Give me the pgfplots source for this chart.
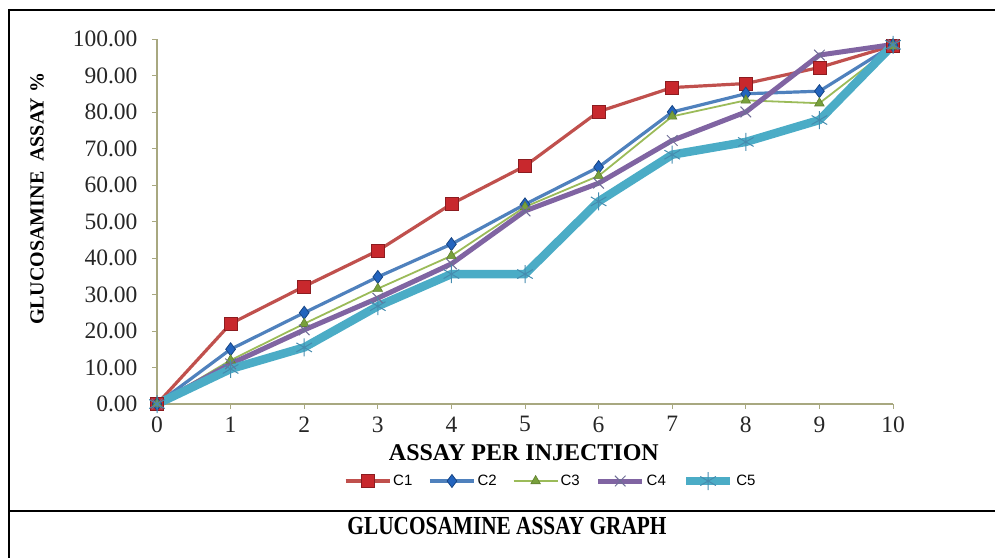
\documentclass[border=0pt]{standalone}
\usepackage{pgfplots}
\pgfplotsset{compat=1.18}
\usepackage{fontspec}
\setmainfont{Liberation Serif}
\newfontfamily\legendfont{Liberation Sans}
\newfontfamily\capfont[FakeStretch=0.82]{Liberation Serif}
\definecolor{axisc}{RGB}{168,168,128}
\definecolor{cA}{RGB}{192,80,77}
\definecolor{cAm}{RGB}{200,40,45}
\definecolor{cB}{RGB}{79,129,189}
\definecolor{cBm}{RGB}{35,100,190}
\definecolor{cC}{RGB}{155,187,89}
\definecolor{cCm}{RGB}{120,160,60}
\definecolor{cD}{RGB}{128,100,162}
\definecolor{cDm}{RGB}{110,110,150}
\definecolor{cE}{RGB}{75,172,198}
\definecolor{cEm}{RGB}{70,140,175}
\begin{document}
\begin{tikzpicture}
\useasboundingbox (0pt,0pt) rectangle (995pt,558pt);
% table borders
\draw[line width=2pt] (9pt,548pt) -- (995pt,548pt);
\draw[line width=2pt] (9pt,549pt) -- (9pt,0pt);
\draw[line width=2pt] (9pt,47pt) -- (995pt,47pt);
\node[font=\capfont\bfseries\fontsize{26}{28}\selectfont] at (507pt,32pt) {GLUCOSAMINE ASSAY GRAPH};
\begin{axis}[
  at={(157pt,154pt)}, anchor=south west,
  width=736pt, height=365pt, scale only axis,
  xmin=0, xmax=10, ymin=0, ymax=100,
  clip=false,
  axis lines=left,
  axis line style={-, color=axisc, line width=1.2pt},
  every tick/.style={color=axisc, line width=1pt},
  major tick length=5pt,
  tick align=outside,
  xtick={0,1,...,10},
  ytick={0,10,...,100},
  /pgf/number format/assume math mode=true,
  yticklabel style={/pgf/number format/fixed, /pgf/number format/fixed zerofill, /pgf/number format/precision=2, xshift=-11pt},
  tick label style={font=\fontsize{23.5}{25}\selectfont, text=black!85},
  xticklabel style={yshift=-4pt},
  xlabel={ASSAY PER INJECTION},
  xlabel style={font=\bfseries\fontsize{24}{26}\selectfont, at={(axis description cs:0.4985,-0.134)}, anchor=center},
  ylabel={GLUCOSAMINE\ \ ASSAY \%},
  ylabel style={font=\bfseries\fontsize{20}{22}\selectfont, at={(axis description cs:-0.163,0.562)}, anchor=center},
  legend columns=5,
  legend style={draw=none, fill=none, at={(axis description cs:0.535,-0.211)}, anchor=center,
    font=\legendfont\fontsize{15}{16}\selectfont,
    /tikz/every even column/.append style={column sep=14pt}},
  legend image code/.code={
    \draw[mark repeat=2,mark phase=2,#1] plot coordinates {(0pt,0pt) (22pt,0pt) (44pt,0pt)};
  },
]
\addplot[cA, line width=3.2pt, mark=square*, mark size=6.5pt,
  mark options={solid, fill=cAm, draw=cAm!70!black, line width=0.8pt}]
  coordinates {(0,0) (1,22) (2,32.2) (3,42) (4,54.8) (5,65.2) (6,80.1) (7,86.7) (8,87.8) (9,92.2) (10,98.2)};
\addlegendentry{C1}
\addplot[cB, line width=3.2pt, mark=diamond*, mark size=6.5pt,
  mark options={solid, fill=cBm, draw=cBm!70!black, line width=0.8pt}]
  coordinates {(0,0) (1,15) (2,25) (3,34.8) (4,43.8) (5,54.7) (6,64.9) (7,80) (8,85) (9,85.7) (10,98.3)};
\addlegendentry{C2}
\addplot[cC, line width=1.8pt, mark=triangle*, mark size=5.5pt,
  mark options={solid, fill=cCm, draw=cCm!80!black, line width=0.6pt}]
  coordinates {(0,0) (1,12) (2,22) (3,31.6) (4,40.6) (5,54) (6,62.5) (7,78.8) (8,83.2) (9,82.4) (10,98)};
\addlegendentry{C3}
\addplot[cD, line width=5pt, mark=x, mark size=7.5pt,
  mark options={solid, draw=cDm, line width=1pt}]
  coordinates {(0,0) (1,11) (2,20.3) (3,29) (4,38.4) (5,52.9) (6,60.5) (7,72.2) (8,80) (9,95.6) (10,98.5)};
\addlegendentry{C4}
\addplot[cE, line width=8.5pt, mark=asterisk, mark size=9pt,
  mark options={solid, draw=cEm, line width=1pt}]
  coordinates {(0,0) (1,9.6) (2,15.5) (3,26.8) (4,35.6) (5,35.6) (6,55.5) (7,68.3) (8,71.8) (9,77.8) (10,98.4)};
\addlegendentry{C5}
\end{axis}
\end{tikzpicture}
\end{document}
